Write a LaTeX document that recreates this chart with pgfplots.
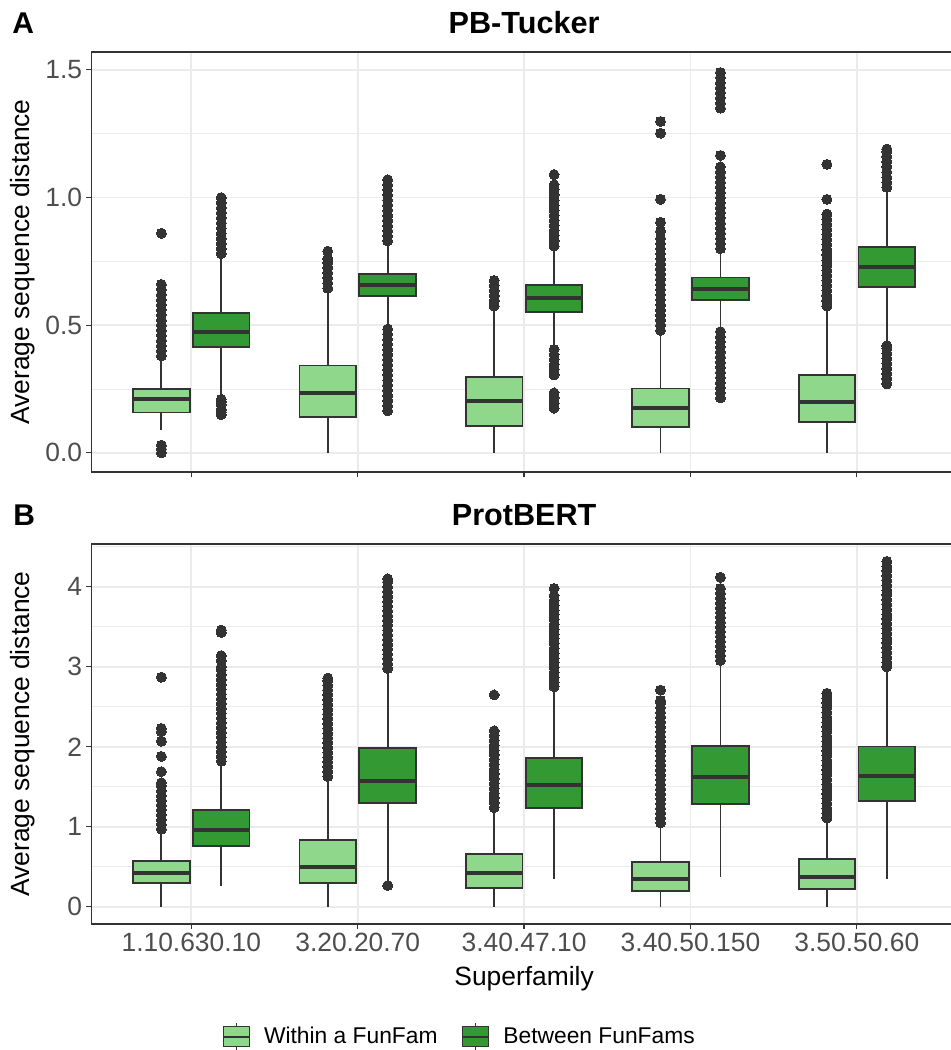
\documentclass[border=0pt]{standalone}
\usepackage{fontspec}
\setmainfont{Liberation Sans}
\usepackage{pgfplots}
\pgfplotsset{compat=1.18}
\usepgfplotslibrary{statistics}
\definecolor{c33}{HTML}{333333}
\definecolor{c4d}{HTML}{4D4D4D}
\definecolor{gridc}{HTML}{EBEBEB}
\definecolor{lightg}{HTML}{8FD88B}
\definecolor{darkg}{HTML}{339933}
\pgfplotsset{
  panel/.style={
    scale only axis, width=432.6pt,
    xmin=0.4, xmax=5.6, xtick={1,2,3,4,5},
    tick align=outside, xtick pos=left, ytick pos=left,
    major tick length=2.5pt, minor tick length=0pt,
    tick style={c33, line width=0.6pt},
    axis line style={c33, line width=0.6pt},
    xmajorgrids, ymajorgrids, yminorgrids,
    major grid style={gridc, line width=0.9pt},
    minor grid style={gridc, line width=0.45pt},
    ticklabel style={font=\fontsize{13.2}{15}\selectfont, color=c4d, inner sep=2pt},
    /pgf/number format/assume math mode=true,
    every axis y label/.style={at={(axis description cs:-0.0792,0.5)}, rotate=90, anchor=center, font=\fontsize{13.2}{15}\selectfont, color=black},
    title style={at={(0.5,1)}, anchor=base, yshift=3.5pt, font=\fontsize{15.3}{17}\selectfont\bfseries},
    boxplot/draw direction=y,
    boxplot/box extend=0.34,
    boxplot/whisker extend=0,
    boxplot/every median/.style={line width=2pt},
  },
  wbox/.style={draw=c33, fill=lightg, line width=0.9pt, mark=*, mark size=2.5pt,
    mark options={draw=c33, fill=c33, line width=0pt}, forget plot},
  bbox/.style={draw=c33, fill=darkg, line width=0.9pt, mark=*, mark size=2.5pt,
    mark options={draw=c33, fill=c33, line width=0pt}, forget plot},
}
\begin{document}
\begin{tikzpicture}
\useasboundingbox (0,0) rectangle (475.5pt,-525pt);
\clip (0,0) rectangle (475.5pt,-525pt);
\node[anchor=base west, inner sep=0pt, font=\fontsize{15}{17}\selectfont\bfseries] at (6pt,-16.5pt) {A};
\node[anchor=base west, inner sep=0pt, font=\fontsize{15}{17}\selectfont\bfseries] at (6.5pt,-262.5pt) {B};

% ---------------- Panel A: PB-Tucker ----------------
\begin{axis}[panel, at={(45.75pt,-26pt)}, anchor=north west, height=210pt,
  ymin=-0.075, ymax=1.57,
  ytick={0,0.5,1,1.5}, minor ytick={0.25,0.75,1.25},
  yticklabel style={/pgf/number format/fixed, /pgf/number format/fixed zerofill, /pgf/number format/precision=1},
  xticklabels={},
  ylabel={Average sequence distance},
  title={PB-Tucker}]
% 1.10.630.10
\addplot[wbox, boxplot prepared={draw position=0.82, lower whisker=0.09, lower quartile=0.158, median=0.209, upper quartile=0.251, upper whisker=0.371}]
 table[header=false, y index=0, row sep=\\] {0.00\\0.015\\0.03\\0.38\\0.40\\0.42\\0.44\\0.46\\0.48\\0.50\\0.52\\0.54\\0.56\\0.58\\0.60\\0.62\\0.64\\0.66\\0.86\\};
\addplot[bbox, boxplot prepared={draw position=1.18, lower whisker=0.23, lower quartile=0.414, median=0.474, upper quartile=0.549, upper whisker=0.765}]
 table[header=false, y index=0, row sep=\\] {0.15\\0.16\\0.17\\0.19\\0.20\\0.21\\0.78\\0.80\\0.82\\0.84\\0.86\\0.88\\0.90\\0.92\\0.94\\0.96\\0.98\\1.00\\};
% 3.20.20.70
\addplot[wbox, boxplot prepared={draw position=1.82, lower whisker=0.0, lower quartile=0.142, median=0.235, upper quartile=0.342, upper whisker=0.635}]
 table[header=false, y index=0, row sep=\\] {0.645\\0.665\\0.685\\0.705\\0.725\\0.745\\0.76\\0.79\\};
\addplot[bbox, boxplot prepared={draw position=2.18, lower whisker=0.50, lower quartile=0.615, median=0.659, upper quartile=0.700, upper whisker=0.815}]
 table[header=false, y index=0, row sep=\\] {0.165\\0.185\\0.205\\0.225\\0.245\\0.265\\0.285\\0.305\\0.325\\0.345\\0.365\\0.385\\0.405\\0.425\\0.445\\0.465\\0.485\\0.83\\0.85\\0.87\\0.89\\0.91\\0.93\\0.95\\0.97\\0.99\\1.01\\1.03\\1.05\\1.07\\};
% 3.40.47.10
\addplot[wbox, boxplot prepared={draw position=2.82, lower whisker=0.0, lower quartile=0.106, median=0.203, upper quartile=0.297, upper whisker=0.565}]
 table[header=false, y index=0, row sep=\\] {0.575\\0.595\\0.615\\0.635\\0.655\\0.675\\};
\addplot[bbox, boxplot prepared={draw position=3.18, lower whisker=0.416, lower quartile=0.552, median=0.606, upper quartile=0.658, upper whisker=0.797}]
 table[header=false, y index=0, row sep=\\] {0.175\\0.195\\0.215\\0.235\\0.305\\0.325\\0.345\\0.365\\0.385\\0.405\\0.81\\0.83\\0.85\\0.87\\0.89\\0.91\\0.93\\0.95\\0.97\\0.99\\1.01\\1.03\\1.05\\1.09\\};
% 3.40.50.150
\addplot[wbox, boxplot prepared={draw position=3.82, lower whisker=0.0, lower quartile=0.100, median=0.177, upper quartile=0.252, upper whisker=0.468}]
 table[header=false, y index=0, row sep=\\] {0.48\\0.50\\0.52\\0.54\\0.56\\0.58\\0.60\\0.62\\0.64\\0.66\\0.68\\0.70\\0.72\\0.74\\0.76\\0.78\\0.80\\0.82\\0.84\\0.868\\0.903\\0.993\\1.252\\1.298\\};
\addplot[bbox, boxplot prepared={draw position=4.18, lower whisker=0.493, lower quartile=0.600, median=0.642, upper quartile=0.687, upper whisker=0.791}]
 table[header=false, y index=0, row sep=\\] {0.215\\0.235\\0.255\\0.275\\0.295\\0.315\\0.335\\0.355\\0.375\\0.395\\0.415\\0.435\\0.455\\0.475\\0.80\\0.82\\0.84\\0.86\\0.88\\0.90\\0.92\\0.94\\0.96\\0.98\\1.00\\1.02\\1.04\\1.06\\1.08\\1.10\\1.12\\1.165\\1.35\\1.37\\1.39\\1.41\\1.43\\1.45\\1.47\\1.49\\};
% 3.50.50.60
\addplot[wbox, boxplot prepared={draw position=4.82, lower whisker=0.0, lower quartile=0.121, median=0.200, upper quartile=0.304, upper whisker=0.565}]
 table[header=false, y index=0, row sep=\\] {0.575\\0.595\\0.615\\0.635\\0.655\\0.675\\0.695\\0.715\\0.735\\0.755\\0.775\\0.795\\0.815\\0.835\\0.855\\0.875\\0.895\\0.915\\0.935\\0.993\\1.13\\};
\addplot[bbox, boxplot prepared={draw position=5.18, lower whisker=0.429, lower quartile=0.651, median=0.729, upper quartile=0.807, upper whisker=1.03}]
 table[header=false, y index=0, row sep=\\] {0.27\\0.29\\0.31\\0.33\\0.35\\0.37\\0.39\\0.41\\0.42\\1.04\\1.06\\1.08\\1.10\\1.12\\1.14\\1.16\\1.18\\1.19\\};
\end{axis}

% ---------------- Panel B: ProtBERT ----------------
\begin{axis}[panel, at={(45.75pt,-272pt)}, anchor=north west, height=190pt,
  ymin=-0.216, ymax=4.536,
  ytick={0,1,2,3,4}, minor ytick={0.5,1.5,2.5,3.5,4.5},
  xticklabels={1.10.630.10, 3.20.20.70, 3.40.47.10, 3.40.50.150, 3.50.50.60},
  ylabel={Average sequence distance},
  xlabel={Superfamily},
  every axis x label/.style={at={(axis description cs:0.5,-0.162)}, anchor=base, font=\fontsize{13.2}{15}\selectfont, color=black},
  title={ProtBERT},
  legend style={at={(0.4265,-0.2966)}, anchor=center, draw=none, fill=none,
    font=\fontsize{11.4}{13}\selectfont, legend columns=2,
    /tikz/every odd column/.append style={column sep=5pt},
    /tikz/every even column/.append style={column sep=10pt}},
  legend cell align=left]
\addlegendimage{legend image code/.code={
  \draw[draw=c33, fill=lightg, line width=0.6pt] (0pt,-5pt) rectangle (13pt,5pt);
  \draw[c33, line width=0.9pt] (0pt,0pt) -- (13pt,0pt);
  \draw[c33, line width=0.6pt] (6.5pt,5pt) -- (6.5pt,7pt) (6.5pt,-5pt) -- (6.5pt,-7pt);}}
\addlegendentry{Within a FunFam}
\addlegendimage{legend image code/.code={
  \draw[draw=c33, fill=darkg, line width=0.6pt] (0pt,-5pt) rectangle (13pt,5pt);
  \draw[c33, line width=0.9pt] (0pt,0pt) -- (13pt,0pt);
  \draw[c33, line width=0.6pt] (6.5pt,5pt) -- (6.5pt,7pt) (6.5pt,-5pt) -- (6.5pt,-7pt);}}
\addlegendentry{Between FunFams}
% 1.10.630.10
\addplot[wbox, boxplot prepared={draw position=0.82, lower whisker=0.0, lower quartile=0.30, median=0.42, upper quartile=0.575, upper whisker=0.93}]
 table[header=false, y index=0, row sep=\\] {0.97\\1.03\\1.09\\1.15\\1.21\\1.27\\1.33\\1.39\\1.45\\1.51\\1.55\\1.69\\1.88\\2.07\\2.19\\2.23\\2.87\\};
\addplot[bbox, boxplot prepared={draw position=1.18, lower whisker=0.265, lower quartile=0.762, median=0.957, upper quartile=1.205, upper whisker=1.80}]
 table[header=false, y index=0, row sep=\\] {1.82\\1.88\\1.94\\2.00\\2.06\\2.12\\2.18\\2.24\\2.30\\2.36\\2.42\\2.48\\2.54\\2.60\\2.66\\2.72\\2.78\\2.84\\2.90\\2.96\\3.00\\3.08\\3.14\\3.43\\3.46\\};
% 3.20.20.70
\addplot[wbox, boxplot prepared={draw position=1.82, lower whisker=0.0, lower quartile=0.294, median=0.50, upper quartile=0.836, upper whisker=1.61}]
 table[header=false, y index=0, row sep=\\] {1.63\\1.69\\1.75\\1.81\\1.87\\1.93\\1.99\\2.05\\2.11\\2.17\\2.23\\2.29\\2.35\\2.41\\2.47\\2.53\\2.59\\2.65\\2.71\\2.77\\2.83\\2.86\\};
\addplot[bbox, boxplot prepared={draw position=2.18, lower whisker=0.32, lower quartile=1.30, median=1.578, upper quartile=1.984, upper whisker=2.96}]
 table[header=false, y index=0, row sep=\\] {0.265\\2.98\\3.04\\3.10\\3.16\\3.22\\3.28\\3.34\\3.40\\3.46\\3.52\\3.58\\3.64\\3.70\\3.76\\3.82\\3.88\\3.94\\4.00\\4.06\\4.10\\};
% 3.40.47.10
\addplot[wbox, boxplot prepared={draw position=2.82, lower whisker=0.0, lower quartile=0.236, median=0.42, upper quartile=0.658, upper whisker=1.22}]
 table[header=false, y index=0, row sep=\\] {1.24\\1.30\\1.36\\1.42\\1.48\\1.54\\1.60\\1.66\\1.72\\1.78\\1.84\\1.90\\1.96\\2.02\\2.08\\2.14\\2.20\\2.65\\};
\addplot[bbox, boxplot prepared={draw position=3.18, lower whisker=0.348, lower quartile=1.238, median=1.528, upper quartile=1.86, upper whisker=2.73}]
 table[header=false, y index=0, row sep=\\] {2.75\\2.81\\2.87\\2.93\\2.99\\3.05\\3.11\\3.17\\3.23\\3.29\\3.35\\3.41\\3.47\\3.53\\3.59\\3.65\\3.71\\3.77\\3.83\\3.89\\3.98\\};
% 3.40.50.150
\addplot[wbox, boxplot prepared={draw position=3.82, lower whisker=0.0, lower quartile=0.195, median=0.348, upper quartile=0.555, upper whisker=1.03}]
 table[header=false, y index=0, row sep=\\] {1.05\\1.11\\1.17\\1.23\\1.29\\1.35\\1.41\\1.47\\1.53\\1.59\\1.65\\1.71\\1.77\\1.83\\1.89\\1.95\\2.01\\2.07\\2.13\\2.19\\2.25\\2.31\\2.37\\2.43\\2.49\\2.55\\2.58\\2.71\\};
\addplot[bbox, boxplot prepared={draw position=4.18, lower whisker=0.377, lower quartile=1.28, median=1.62, upper quartile=2.01, upper whisker=3.06}]
 table[header=false, y index=0, row sep=\\] {3.08\\3.14\\3.20\\3.26\\3.32\\3.38\\3.44\\3.50\\3.56\\3.62\\3.68\\3.74\\3.80\\3.86\\3.92\\3.98\\4.12\\};
% 3.50.50.60
\addplot[wbox, boxplot prepared={draw position=4.82, lower whisker=0.0, lower quartile=0.224, median=0.377, upper quartile=0.596, upper whisker=1.09}]
 table[header=false, y index=0, row sep=\\] {1.11\\1.17\\1.23\\1.29\\1.35\\1.41\\1.47\\1.53\\1.59\\1.65\\1.71\\1.77\\1.83\\1.89\\1.95\\2.01\\2.07\\2.13\\2.19\\2.25\\2.31\\2.37\\2.43\\2.49\\2.55\\2.61\\2.67\\};
\addplot[bbox, boxplot prepared={draw position=5.18, lower whisker=0.348, lower quartile=1.32, median=1.64, upper quartile=2.004, upper whisker=2.98}]
 table[header=false, y index=0, row sep=\\] {3.00\\3.06\\3.12\\3.18\\3.24\\3.30\\3.36\\3.42\\3.48\\3.54\\3.60\\3.66\\3.72\\3.78\\3.84\\3.90\\3.96\\4.02\\4.08\\4.14\\4.20\\4.26\\4.32\\};
\end{axis}
\end{tikzpicture}
\end{document}
